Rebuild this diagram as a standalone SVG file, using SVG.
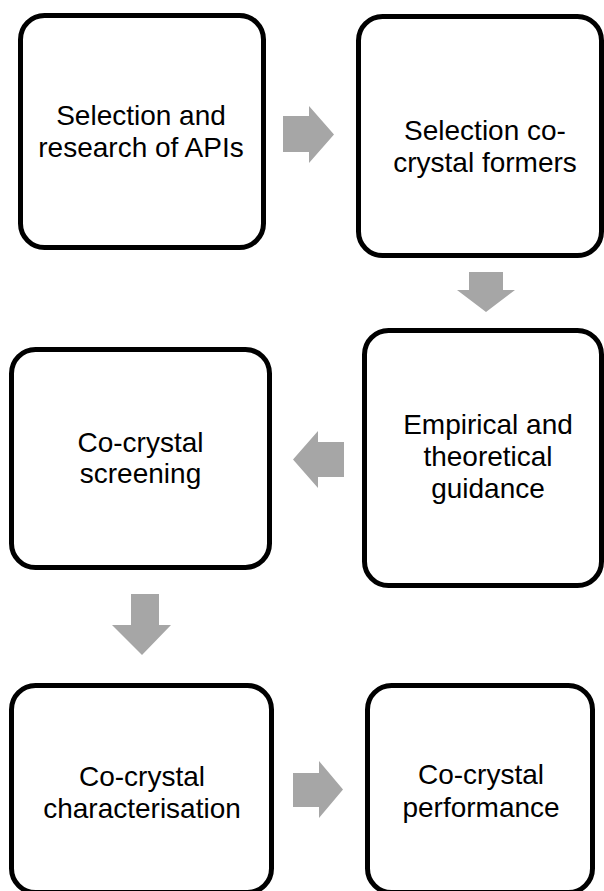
<svg xmlns="http://www.w3.org/2000/svg" width="604" height="891" viewBox="0 0 604 891">
<style>
.box{fill:#fff;stroke:#000;stroke-width:5}
.lbl{font-family:"Liberation Sans",Arial,sans-serif;font-size:28px;fill:#000;text-anchor:middle}
.arr{fill:#A6A6A6;stroke:none}
</style>
<rect width="604" height="891" fill="#fff"/>
<g id="connectors">
<polygon class="arr" points="283,116 309,116 309,106 334,134.5 309,163 309,152 283,152"/>
<polygon class="arr" points="469,272 503,272 503,290 515,290 486,312 457,290 469,290"/>
<polygon class="arr" points="344,442 318,442 318,431 293,459.5 318,488 318,477 344,477"/>
<polygon class="arr" points="131,594 159,594 159,625 171,625 142,655 112,625 131,625"/>
<polygon class="arr" points="293,773 319,773 319,761 343,789.5 319,818 319,807 293,807"/>
</g>
<g id="node1">
<rect class="box" x="20.5" y="15.5" width="243" height="232" rx="24"/>
<text class="lbl" x="141" y="124.5">Selection and</text>
<text class="lbl" x="141" y="157">research of APIs</text>
</g>
<g id="node2">
<rect class="box" x="358.5" y="16.5" width="243" height="239" rx="24"/>
<text class="lbl" x="485" y="140">Selection co-</text>
<text class="lbl" x="485" y="172">crystal formers</text>
</g>
<g id="node3">
<rect class="box" x="364.5" y="330.5" width="237" height="255" rx="24"/>
<text class="lbl" x="488" y="434">Empirical and</text>
<text class="lbl" x="488" y="466">theoretical</text>
<text class="lbl" x="488" y="498">guidance</text>
</g>
<g id="node4">
<rect class="box" x="11.5" y="349.5" width="258" height="218" rx="24"/>
<text class="lbl" x="140.5" y="451.5">Co-crystal</text>
<text class="lbl" x="140.5" y="483">screening</text>
</g>
<g id="node5">
<rect class="box" x="11.5" y="685.5" width="260" height="207" rx="24"/>
<text class="lbl" x="142" y="786">Co-crystal</text>
<text class="lbl" x="142" y="818">characterisation</text>
</g>
<g id="node6">
<rect class="box" x="367.5" y="685.5" width="225" height="207" rx="24"/>
<text class="lbl" x="481" y="784">Co-crystal</text>
<text class="lbl" x="481" y="817">performance</text>
</g>
</svg>
